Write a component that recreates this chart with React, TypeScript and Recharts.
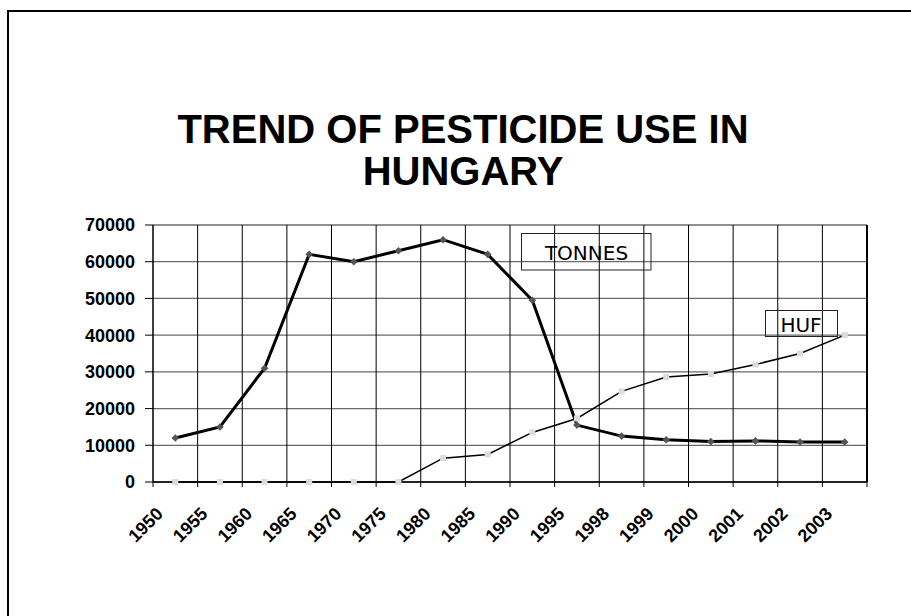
import React from 'react';
import { LineChart, Line, XAxis, YAxis, CartesianGrid, ReferenceLine } from 'recharts';

const years = ['1950', '1955', '1960', '1965', '1970', '1975', '1980', '1985', '1990', '1995', '1998', '1999', '2000', '2001', '2002', '2003'];
const tonnes = [12000, 15000, 31000, 62000, 60000, 63000, 66000, 62000, 49500, 15500, 12500, 11500, 11000, 11200, 10900, 10900];
const huf = [0, 0, 0, 0, 0, 0, 6500, 7500, 13500, 17300, 24700, 28600, 29400, 32000, 35000, 40000];
const yTicks = [0, 10000, 20000, 30000, 40000, 50000, 60000, 70000];
const titleLines = ['TREND OF PESTICIDE USE IN', 'HUNGARY'];
const seriesNames = ['TONNES', 'HUF'];

const data = years.map((year, i) => ({ pos: i + 0.5, year, tonnes: tonnes[i], huf: huf[i] }));
const xTicks = years.map((_, i) => i).concat([years.length]);

const FONT = '"Liberation Sans", Arial, sans-serif';

const XTick = (props: any) => {
  const { x, y, payload } = props;
  const label = years[payload.value];
  if (!label) return <g />;
  return (
    <text
      x={0}
      y={0}
      transform={`translate(${x + 11},${y + 28}) rotate(-45)`}
      textAnchor="end"
      fontFamily={FONT}
      fontWeight="bold"
      fontSize={18}
      fill="#000"
    >
      {label}
    </text>
  );
};

const Diamond = (props: any) => {
  const { cx, cy, index } = props;
  if (cx == null || cy == null) return <g key={`d${index}`} />;
  const s = 3.8;
  return <path key={`d${index}`} d={`M${cx},${cy - s}L${cx + s},${cy}L${cx},${cy + s}L${cx - s},${cy}Z`} fill="#555" />;
};

const Square = (props: any) => {
  const { cx, cy, index } = props;
  if (cx == null || cy == null) return <g key={`s${index}`} />;
  const s = 3;
  return <rect key={`s${index}`} x={cx - s} y={cy - s} width={2 * s} height={2 * s} fill="#dcdcdc" />;
};

export default function App() {
  return (
    <div style={{ position: 'absolute', left: 0, top: 0, width: 911, height: 616, overflow: 'hidden', background: '#fff' }}>
      <div style={{ position: 'absolute', left: 0, top: 0 }}>
        <LineChart width={911} height={616} data={data} margin={{ top: 225, right: 44, bottom: 104, left: 83 }}>
          <CartesianGrid vertical={false} stroke="#6a6a6a" strokeWidth={1.3} />
          <CartesianGrid horizontal={false} stroke="#000" strokeWidth={1} />
          <XAxis
            type="number"
            dataKey="pos"
            domain={[0, years.length]}
            ticks={xTicks}
            interval={0}
            height={30}
            tickSize={5}
            tickMargin={0}
            tick={<XTick />}
            axisLine={{ stroke: '#000', strokeWidth: 1.5 }}
            tickLine={{ stroke: '#000' }}
          />
          <YAxis
            type="number"
            domain={[0, 70000]}
            ticks={yTicks}
            interval={0}
            width={70}
            tickSize={8}
            tickMargin={10}
            tick={{ fontFamily: FONT, fontWeight: 'bold', fontSize: 18, fill: '#000' }}
            axisLine={{ stroke: '#000', strokeWidth: 1 }}
            tickLine={{ stroke: '#000' }}
          />
          <ReferenceLine x={years.length} stroke="#000" strokeWidth={2} />
          <Line
            type="linear"
            dataKey="tonnes"
            name={seriesNames[0]}
            stroke="#000"
            strokeWidth={3}
            dot={Diamond}
            activeDot={false}
            isAnimationActive={false}
          />
          <Line
            type="linear"
            dataKey="huf"
            name={seriesNames[1]}
            stroke="#000"
            strokeWidth={1.5}
            dot={Square}
            activeDot={false}
            isAnimationActive={false}
          />
        </LineChart>
      </div>
      <svg width={911} height={616} style={{ position: 'absolute', left: 0, top: 0, pointerEvents: 'none' }}>
        <rect x={8} y={11} width={2000} height={2000} fill="none" stroke="#000" strokeWidth={2} />
        <text x={463} y={142.7} textAnchor="middle" fontFamily={FONT} fontWeight="bold" fontSize={40} fill="#000">
          {titleLines[0]}
        </text>
        <text x={463} y={184.7} textAnchor="middle" fontFamily={FONT} fontWeight="bold" fontSize={40} fill="#000">
          {titleLines[1]}
        </text>
        <rect x={521.5} y={233.5} width={129.5} height={36.5} fill="none" stroke="#222" strokeWidth={1} />
        <text x={586.5} y={260} textAnchor="middle" fontFamily='"DejaVu Sans", sans-serif' fontSize={20} fill="#000">
          {seriesNames[0]}
        </text>
        <rect x={765.5} y={310.5} width={72} height={26} fill="none" stroke="#222" strokeWidth={1} />
        <text x={801} y={331.7} textAnchor="middle" fontFamily='"DejaVu Sans", sans-serif' fontSize={20} fill="#000">
          {seriesNames[1]}
        </text>
      </svg>
    </div>
  );
}
